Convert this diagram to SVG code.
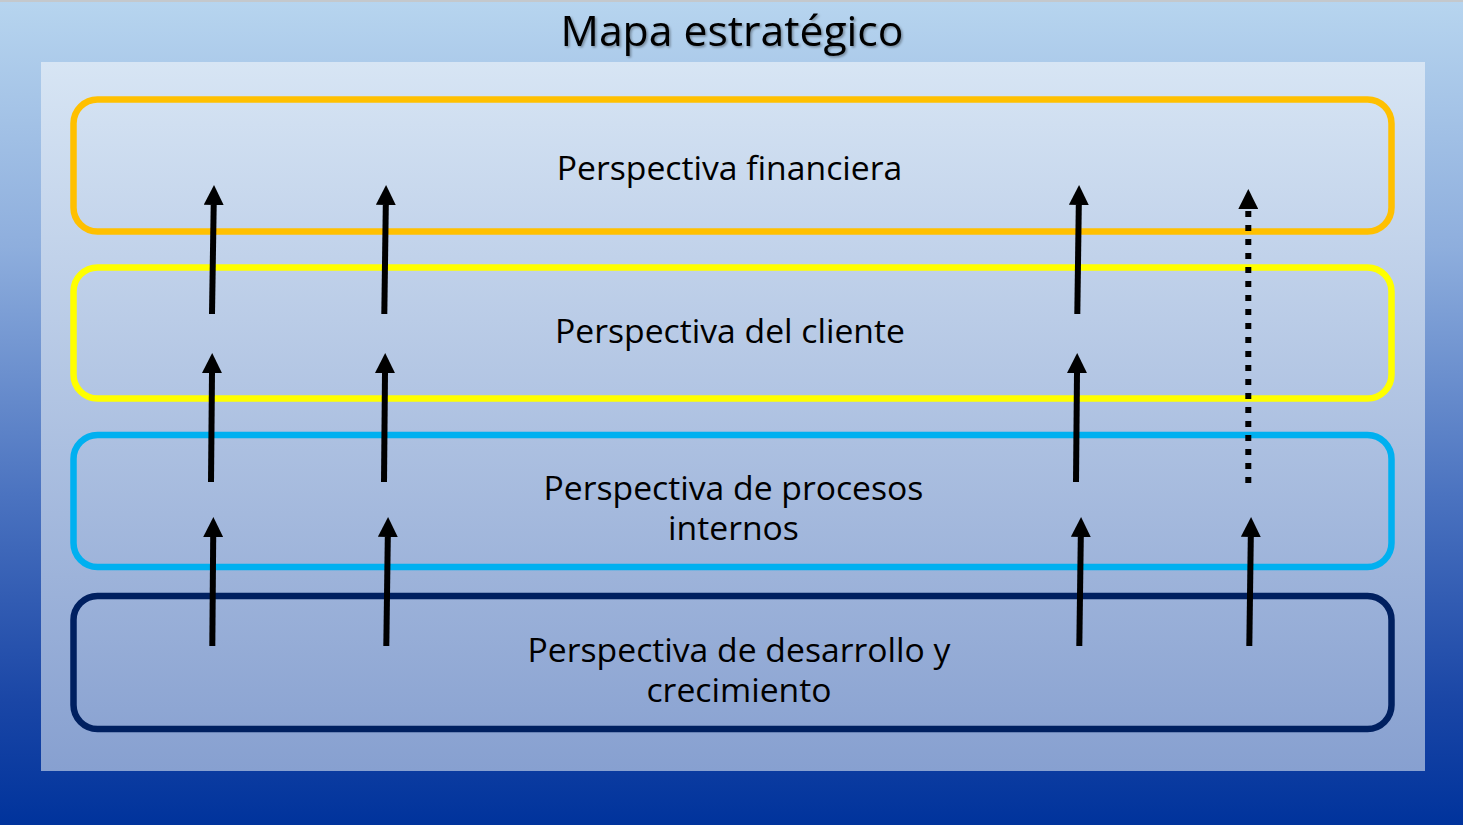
<svg xmlns="http://www.w3.org/2000/svg" width="1463" height="825" viewBox="0 0 1463 825">
<defs>
<linearGradient id="bg" x1="0" y1="0" x2="0" y2="1">
<stop offset="0" stop-color="#b7d5ef"/>
<stop offset="0.3" stop-color="#8eaedd"/>
<stop offset="0.6" stop-color="#4b73c0"/>
<stop offset="0.85" stop-color="#1a46a6"/>
<stop offset="1" stop-color="#00339c"/>
</linearGradient>
<linearGradient id="panel" x1="0" y1="0" x2="0" y2="1">
<stop offset="0" stop-color="#d7e5f4"/>
<stop offset="1" stop-color="#87a0d0"/>
</linearGradient>
<filter id="shadow" x="-5%" y="-20%" width="110%" height="150%">
<feDropShadow dx="1.5" dy="1.5" stdDeviation="1" flood-color="#000" flood-opacity="0.35"/>
</filter>
<marker id="head" viewBox="0 0 20 20" markerWidth="20" markerHeight="20" refX="0" refY="10" orient="auto" markerUnits="userSpaceOnUse">
<path d="M0,0 L20,10 L0,20 Z" fill="#000"/>
</marker>
</defs>
<style>
.box{fill:none;stroke-width:6.5}
.lbl{font-family:"Open Sans","Noto Sans","Liberation Sans",sans-serif;font-size:33.7px;fill:#000;text-anchor:middle}
.arr{stroke:#000;stroke-width:6;fill:none;marker-end:url(#head)}
.dot{stroke-dasharray:6 8}
</style>
<rect x="0" y="0" width="1463" height="825" fill="url(#bg)"/>
<rect x="0" y="0" width="1463" height="2" fill="#c4c8cc"/>
<text x="732" y="46" font-family="'Open Sans','Noto Sans','Liberation Sans',sans-serif" font-size="42.7" text-anchor="middle" fill="#000" filter="url(#shadow)">Mapa estratégico</text>
<rect x="41" y="62" width="1384" height="709" fill="url(#panel)"/>
<g id="financiera">
<rect class="box" x="73.5" y="99.5" width="1318" height="132" rx="24" stroke="#ffc000"/>
<text class="lbl" x="729.5" y="179.5">Perspectiva financiera</text>
</g>
<g id="cliente">
<rect class="box" x="73.5" y="267.5" width="1318" height="131" rx="24" stroke="#ffff00"/>
<text class="lbl" x="730" y="343">Perspectiva del cliente</text>
</g>
<g id="procesos">
<rect class="box" x="73.5" y="435" width="1318" height="132" rx="24" stroke="#00b0f0"/>
<text class="lbl"><tspan x="733.5" y="500">Perspectiva de procesos</tspan><tspan x="733.5" y="539.5">internos</tspan></text>
</g>
<g id="desarrollo">
<rect class="box" x="73.5" y="596" width="1318" height="133" rx="24" stroke="#002060"/>
<text class="lbl"><tspan x="739" y="662">Perspectiva de desarrollo y</tspan><tspan x="739" y="701.5">crecimiento</tspan></text>
</g>
<g id="connectors">
<line class="arr" x1="212" y1="314" x2="213.7" y2="205"/>
<line class="arr" x1="384.3" y1="314" x2="385.8" y2="205"/>
<line class="arr" x1="1077.3" y1="314" x2="1078.8" y2="205"/>
<line class="arr dot" x1="1248.3" y1="483" x2="1248.3" y2="209"/>
<line class="arr" x1="211" y1="482" x2="212" y2="373"/>
<line class="arr" x1="384" y1="482" x2="385" y2="373"/>
<line class="arr" x1="1076" y1="482" x2="1077" y2="373"/>
<line class="arr" x1="212.3" y1="646" x2="213.2" y2="537"/>
<line class="arr" x1="386.3" y1="646" x2="387.8" y2="537"/>
<line class="arr" x1="1079.3" y1="646" x2="1080.8" y2="537"/>
<line class="arr" x1="1249.3" y1="646" x2="1250.8" y2="537"/>
</g>
</svg>
